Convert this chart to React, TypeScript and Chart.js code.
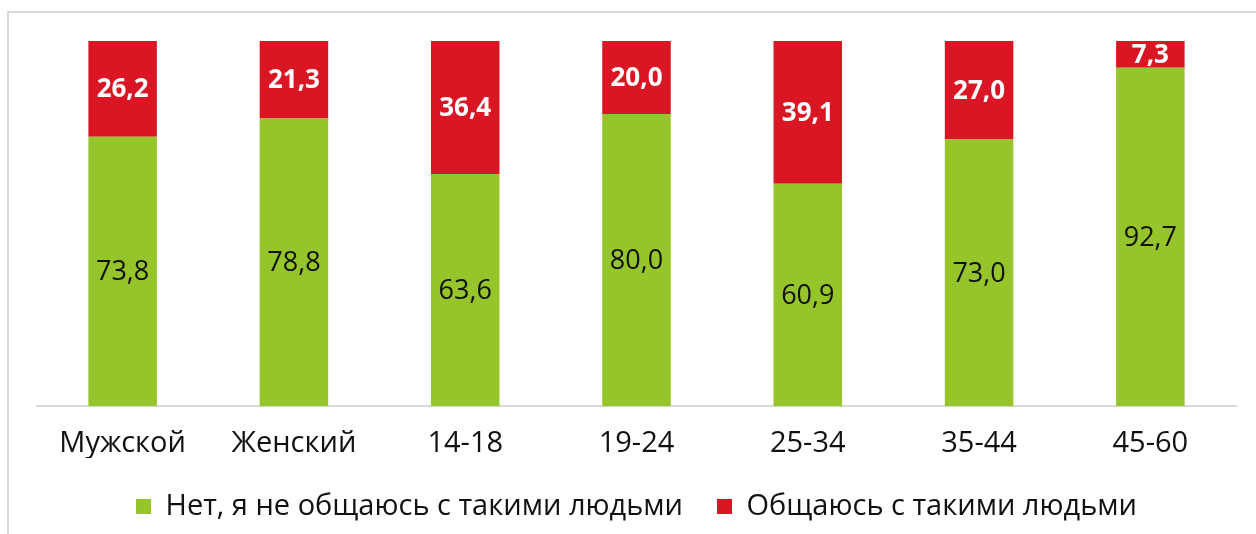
import React, { useEffect, useRef } from "react";
import { Chart, registerables } from "chart.js";

Chart.register(...registerables);

const categories = ["Мужской", "Женский", "14-18", "19-24", "25-34", "35-44", "45-60"];
const notCommunicating = [73.8, 78.8, 63.6, 80.0, 60.9, 73.0, 92.7];
const communicating = [26.2, 21.3, 36.4, 20.0, 39.1, 27.0, 7.3];
const seriesNames = ["Нет, я не общаюсь с такими людьми", "Общаюсь с такими людьми"];

const GREEN = "#95C52A";
const RED = "#DA1624";
const FONT = "'Open Sans', sans-serif";

const fmt = (v: number) => v.toFixed(1).replace(".", ",");

const valueLabels = {
  id: "valueLabels",
  afterDatasetsDraw(chart: any) {
    const ctx = chart.ctx;
    ctx.save();
    ctx.textAlign = "center";
    ctx.textBaseline = "middle";
    chart.data.datasets.forEach((ds: any, di: number) => {
      const meta = chart.getDatasetMeta(di);
      meta.data.forEach((bar: any, i: number) => {
        const { x, y, base } = bar.getProps(["x", "y", "base"], true);
        const cy = (y + base) / 2;
        if (di === 0) {
          ctx.font = `400 27px ${FONT}`;
          ctx.fillStyle = "#111111";
        } else {
          ctx.font = `700 26px ${FONT}`;
          ctx.fillStyle = "#ffffff";
        }
        ctx.fillText(fmt(ds.data[i]), x, cy + 1);
      });
    });
    ctx.restore();
  },
};

export default function App() {
  const ref = useRef<HTMLCanvasElement>(null);
  useEffect(() => {
    if (!ref.current) return;
    const chart = new Chart(ref.current, {
      type: "bar",
      data: {
        labels: categories,
        datasets: [
          { label: seriesNames[0], data: notCommunicating, backgroundColor: GREEN, barPercentage: 0.4, categoryPercentage: 1 },
          { label: seriesNames[1], data: communicating, backgroundColor: RED, barPercentage: 0.4, categoryPercentage: 1 },
        ],
      },
      options: {
        animation: false,
        responsive: false,
        maintainAspectRatio: false,
        layout: { padding: { left: 37, right: 20, top: 41, bottom: 3 } },
        scales: {
          x: {
            stacked: true,
            grid: { display: false, drawTicks: false },
            border: { display: true, color: "#d9d9d9", width: 2 },
            ticks: { color: "#111111", font: { family: FONT, size: 29 }, padding: 20 },
            afterFit: (scale: any) => {
              scale.height -= 23;
            },
          },
          y: { stacked: true, display: false, min: 0, max: 100 },
        },
        plugins: {
          legend: {
            position: "bottom",
            labels: {
              boxWidth: 15,
              boxHeight: 15,
              padding: 34,
              color: "#111111",
              font: { family: FONT, size: 29 },
            },
          },
          tooltip: { enabled: false },
        },
      },
      plugins: [valueLabels],
    });
    return () => chart.destroy();
  }, []);
  return (
    <div style={{ position: "fixed", left: 0, top: 0, width: 1256, height: 534, overflow: "hidden", background: "#fff" }}>
      <div style={{ position: "absolute", left: 7, top: 11, width: 1400, height: 700, border: "2px solid #d9d9d9", boxSizing: "border-box" }} />
      <canvas ref={ref} width={1256} height={534} style={{ position: "absolute", left: 0, top: 0 }} />
    </div>
  );
}
